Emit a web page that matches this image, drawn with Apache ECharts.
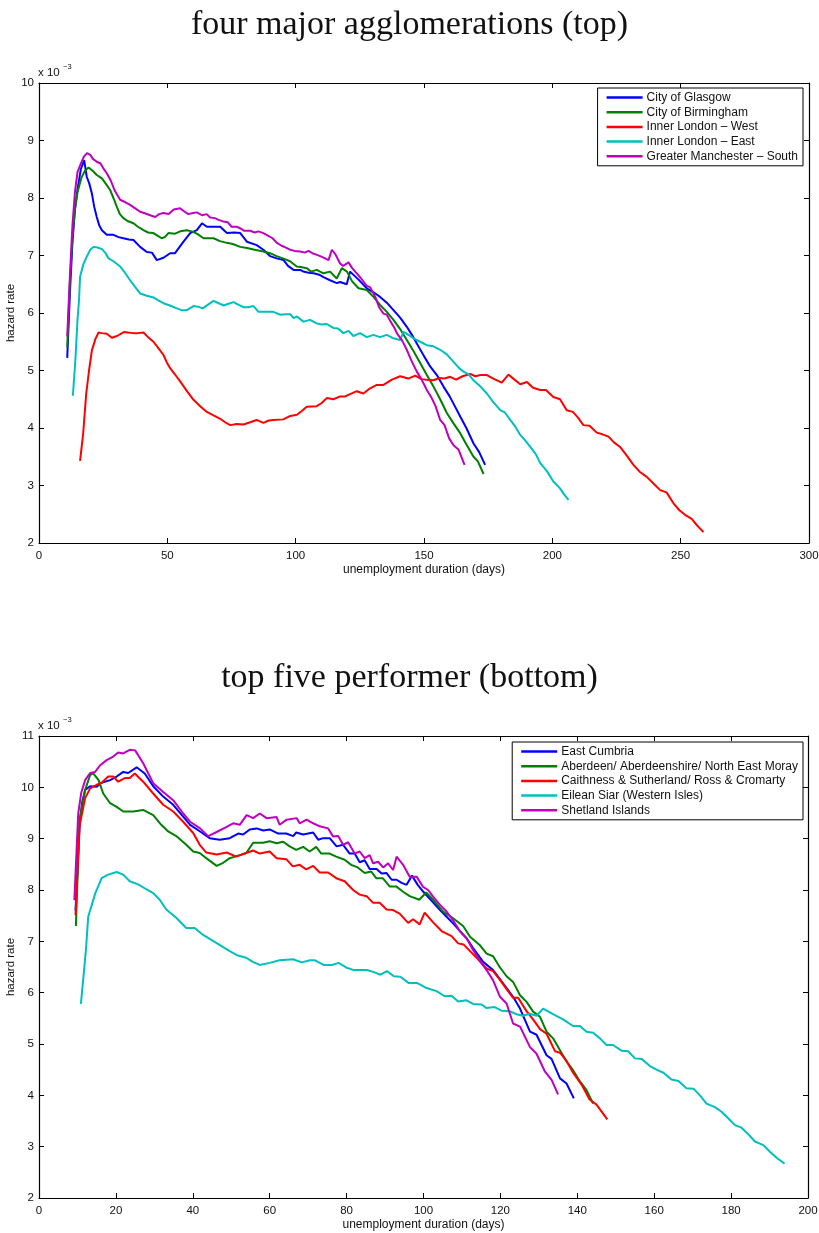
<!DOCTYPE html>
<html>
<head>
<meta charset="utf-8">
<script src="https://cdn.jsdelivr.net/npm/echarts@6/dist/echarts.min.js"></script>
<style>
html, body { margin: 0; padding: 0; background: #fff; }
#chart { width: 819px; height: 1233px; }
</style>
</head>
<body>
<div id="chart"></div>
<script>
// hazard rate values are in units of 1e-3, x is unemployment duration in days

// ---- top panel: four major agglomerations ----
var topNames = ['City of Glasgow', 'City of Birmingham', 'Inner London \u2013 West', 'Inner London \u2013 East', 'Greater Manchester \u2013 South'];

var glasgow = [[11,5.22],[12,6.3],[13,7.2],[14,7.8],[15,8.15],[16.3,8.5],[17.6,8.66],[18.6,8.37],[19.6,8.25],[20.6,8.08],[21.5,7.85],[22.5,7.67],[23.5,7.52],[24.5,7.44],[26.4,7.36],[29,7.36],[31,7.32],[32.9,7.3],[35,7.28],[36.8,7.27],[39.4,7.15],[42,7.06],[44,7.05],[45.9,6.92],[48.5,6.96],[51.1,7.04],[53,7.04],[56.3,7.24],[58.9,7.39],[61.5,7.44],[63.5,7.56],[65.4,7.5],[68,7.5],[70.6,7.5],[73.2,7.39],[76,7.4],[78.4,7.39],[81,7.24],[84.8,7.18],[87.4,7.1],[90,6.99],[92.6,6.95],[95.3,6.92],[97,6.82],[99.2,6.75],[101.8,6.75],[103,6.72],[105,6.7],[107,6.69],[109.5,6.66],[111,6.62],[113.4,6.57],[116,6.52],[117.3,6.54],[119.9,6.5],[121.2,6.72],[124.5,6.58],[127.7,6.43],[130.3,6.36],[132.9,6.28],[135.5,6.18],[138.1,6.05],[140.7,5.92],[143.3,5.76],[145.3,5.62],[147.2,5.47],[150,5.25],[152.4,5.07],[155,4.92],[157.6,4.72],[160,4.55],[162,4.38],[164.1,4.2],[166.5,4.0],[169.3,3.73],[171.5,3.58],[173.8,3.36]];

var birmingham = [[11,5.4],[12,6.5],[13,7.3],[14,7.8],[15,8.1],[16.5,8.35],[18,8.48],[19.3,8.53],[21,8.47],[22.5,8.4],[24.5,8.34],[26,8.25],[27.7,8.14],[29,8.0],[30.3,7.85],[31.5,7.72],[32.9,7.65],[34.5,7.6],[36.8,7.56],[38.5,7.5],[40.7,7.44],[42.5,7.4],[44.6,7.39],[46.3,7.34],[47.8,7.3],[49,7.32],[50.4,7.39],[53,7.38],[55,7.42],[57.6,7.44],[59.5,7.42],[61.5,7.38],[64.1,7.3],[66,7.3],[68,7.3],[70.5,7.25],[73.2,7.22],[75.5,7.2],[78.4,7.15],[81,7.13],[84,7.1],[87.4,7.07],[90,7.04],[92.6,6.99],[95,6.95],[97.8,6.9],[100.4,6.81],[102,6.8],[104.3,6.78],[106,6.72],[108.2,6.75],[109.5,6.72],[110.8,6.69],[113.4,6.72],[116,6.6],[118,6.78],[120,6.72],[122,6.55],[124.5,6.43],[127.7,6.4],[130.3,6.28],[132.9,6.14],[135.5,6.02],[138.1,5.88],[140.7,5.72],[143.3,5.53],[146,5.33],[148.5,5.13],[151,4.93],[153.7,4.72],[156.3,4.5],[158.9,4.26],[161.5,4.08],[164.1,3.91],[166.7,3.7],[169.3,3.5],[171,3.42],[173.2,3.2]];

var londonWest = [[16,3.43],[17.2,3.9],[18.4,4.6],[19.5,5.0],[20.6,5.35],[22,5.55],[23.2,5.66],[24.5,5.65],[26.4,5.64],[28.4,5.57],[30.4,5.6],[33.2,5.67],[34.5,5.66],[36.8,5.65],[38.5,5.65],[40.7,5.66],[42.5,5.58],[44.6,5.5],[46.5,5.39],[48.5,5.27],[49.8,5.14],[51.1,5.04],[53,4.93],[55,4.81],[57.5,4.65],[60.2,4.49],[62.8,4.38],[65.4,4.28],[68,4.22],[70.6,4.16],[72.5,4.1],[74.5,4.05],[77,4.07],[79.7,4.06],[82.3,4.1],[84.8,4.14],[87.4,4.09],[89.5,4.13],[91.3,4.14],[95.2,4.15],[97.9,4.21],[100.5,4.23],[102.5,4.3],[104.3,4.37],[108.2,4.38],[110,4.43],[112.1,4.52],[114.7,4.5],[117.3,4.55],[119.3,4.55],[121.2,4.59],[123.8,4.64],[126.4,4.6],[129,4.69],[131.6,4.75],[134.2,4.75],[137.5,4.84],[140.7,4.9],[143.9,4.86],[146.6,4.91],[149,4.85],[151,4.84],[153.7,4.83],[156,4.87],[158,4.86],[160.2,4.89],[162.5,4.84],[165,4.9],[168,4.94],[170,4.9],[172,4.92],[174.5,4.92],[177,4.86],[180.3,4.79],[182.9,4.93],[185,4.85],[187.5,4.76],[190.1,4.8],[192.5,4.7],[195.3,4.66],[197.5,4.66],[200.4,4.54],[203,4.5],[205.6,4.31],[208,4.28],[210,4.18],[212.1,4.05],[214.5,4.04],[217.3,3.92],[219.5,3.89],[221.9,3.85],[224,3.75],[226.4,3.67],[229,3.52],[231.6,3.36],[234,3.24],[236.8,3.15],[239.5,3.03],[242,2.92],[244.5,2.88],[247.2,2.69],[249.5,2.57],[251.7,2.49],[254.3,2.42],[256.5,2.3],[258.9,2.19]];

var londonEast = [[13.2,4.56],[14.2,5.2],[15,5.88],[15.6,6.23],[16,6.63],[17.3,6.85],[18.6,6.98],[20,7.1],[21.2,7.15],[22.8,7.14],[24.5,7.11],[25.8,7.05],[27.1,6.95],[29,6.9],[31.6,6.81],[33.5,6.7],[35.5,6.57],[37.5,6.45],[39.4,6.34],[42,6.3],[44.6,6.27],[46.5,6.22],[48.5,6.17],[51,6.13],[53.7,6.08],[55.5,6.05],[57.6,6.05],[60.2,6.12],[62,6.11],[63.8,6.08],[66,6.15],[68,6.21],[70,6.17],[72,6.13],[73.8,6.16],[75.8,6.19],[77.8,6.14],[79.8,6.1],[81.5,6.1],[83.6,6.12],[85.5,6.02],[88,6.02],[91.3,6.02],[94,5.97],[96,5.98],[97.9,5.98],[99.2,5.91],[100.5,5.94],[103,5.85],[105.6,5.88],[108.2,5.82],[110,5.8],[112,5.81],[114.7,5.74],[116.5,5.73],[118.6,5.65],[120.6,5.69],[122.5,5.6],[125.1,5.65],[127.7,5.58],[130.3,5.62],[132.9,5.58],[135.5,5.62],[138.1,5.56],[140.7,5.53],[142,5.67],[144,5.62],[145.9,5.56],[148.5,5.5],[151.1,5.44],[153.7,5.42],[156.3,5.36],[158.9,5.28],[161.5,5.15],[163.5,5.05],[165.4,4.98],[167.5,4.93],[169.3,4.83],[172,4.72],[174.5,4.6],[177,4.45],[179.7,4.31],[181.5,4.27],[183.6,4.14],[185.5,4.03],[187.5,3.88],[189.5,3.78],[191.4,3.67],[193.5,3.55],[195.3,3.39],[197.9,3.25],[200.4,3.07],[203,2.95],[204.5,2.85],[206.3,2.75]];

var manchester = [[11,5.59],[12,6.6],[13,7.5],[14,8.1],[15,8.45],[16.5,8.62],[17.5,8.72],[18.7,8.78],[20,8.75],[21,8.68],[22.5,8.63],[24,8.6],[25,8.52],[26.4,8.43],[28,8.3],[29.5,8.13],[31.6,7.97],[33.5,7.93],[35.5,7.88],[37.5,7.82],[39.4,7.76],[41.5,7.73],[43.3,7.7],[45.3,7.67],[46.8,7.72],[48.5,7.74],[50.5,7.72],[52.5,7.8],[55,7.82],[56.5,7.77],[58.2,7.72],[60,7.74],[61.5,7.75],[63.5,7.7],[65.3,7.72],[66.7,7.66],[68.5,7.65],[70,7.62],[71.9,7.59],[73.5,7.58],[75,7.5],[77.1,7.5],[78.5,7.47],[80,7.43],[82.3,7.43],[84,7.4],[85.5,7.42],[87.4,7.39],[89,7.35],[91,7.3],[92.7,7.22],[94.5,7.17],[96,7.14],[97.9,7.1],[99.5,7.08],[101.8,7.07],[103.5,7.05],[105,7.08],[106.5,7.04],[108.3,7.01],[110,6.98],[111.5,6.95],[112.8,6.92],[114.1,7.1],[115.5,7.02],[117.3,6.86],[118.5,6.82],[120.6,6.88],[122,6.78],[123.8,6.69],[125.5,6.6],[127.7,6.47],[129,6.45],[131,6.28],[132.5,6.1],[134.2,5.99],[135.5,5.97],[137,5.85],[138.5,5.74],[139.4,5.65],[141.5,5.52],[143.3,5.36],[145,5.18],[147.2,4.98],[149,4.85],[151.1,4.66],[153,4.52],[154.5,4.38],[156.3,4.14],[158,4.05],[159.8,3.82],[161.5,3.7],[163.5,3.62],[165.8,3.36]];

// ---- bottom panel: top five performers ----
var bottomNames = ['East Cumbria', 'Aberdeen/ Aberdeenshire/ North East Moray', 'Caithness & Sutherland/ Ross & Cromarty', 'Eilean Siar (Western Isles)', 'Shetland Islands'];

var cumbria = [[9.5,7.6],[10.5,9.2],[11.2,9.7],[12,9.95],[13.3,10.02],[15,10.01],[16.3,10.09],[18.5,10.14],[20.2,10.21],[21.9,10.3],[23.2,10.28],[25.4,10.39],[27.5,10.27],[29.7,10.02],[32.3,9.82],[34.9,9.66],[37.5,9.43],[39.3,9.27],[41.9,9.14],[44.4,9.01],[47,8.98],[49.6,9.01],[51.8,9.1],[53.1,9.08],[54.8,9.18],[56.6,9.2],[58.3,9.16],[60,9.18],[62.2,9.1],[64.3,9.1],[66.1,9.05],[66.9,9.12],[68.7,9.08],[71.3,9.12],[72.6,8.98],[73.9,9.01],[75.6,9.01],[77.4,8.85],[79.1,8.88],[80.8,8.71],[82.1,8.71],[83.4,8.54],[84.7,8.58],[86,8.41],[87.8,8.41],[89.1,8.32],[90.4,8.33],[91.7,8.2],[93,8.2],[94.3,8.14],[95.6,8.1],[97,8.28],[98.5,8.1],[99.9,7.97],[102,7.8],[104.3,7.61],[106,7.48],[107.7,7.35],[109.5,7.2],[111.2,7.06],[112.9,6.87],[115.5,6.6],[118.1,6.44],[120.7,6.18],[123.3,5.92],[125.1,5.69],[127.7,5.24],[129.4,5.18],[132,4.78],[133.3,4.71],[135.5,4.33],[137.2,4.23],[139.1,3.94]];

var aberdeen = [[9.6,7.3],[10.5,9.36],[12,9.95],[13.3,10.24],[14.1,10.27],[15.5,10.14],[16.7,9.88],[18.5,9.69],[20.2,9.62],[21.9,9.53],[24.5,9.53],[27.1,9.56],[29.7,9.46],[31.8,9.27],[33.6,9.14],[35.7,9.05],[38.3,8.88],[40.1,8.75],[41.8,8.72],[43.5,8.62],[46.2,8.47],[47.9,8.53],[49.6,8.62],[52.2,8.68],[53.9,8.72],[55.7,8.92],[58.3,8.92],[60,8.95],[61.8,8.91],[63.5,8.94],[65.2,8.85],[66.9,8.78],[68.7,8.84],[70.4,8.75],[72.1,8.84],[73.4,8.71],[75.6,8.71],[77.3,8.65],[79.5,8.59],[81.2,8.49],[82.9,8.44],[84.7,8.33],[86.4,8.36],[87.7,8.23],[89.4,8.23],[91.2,8.07],[92.9,8.07],[94.6,7.97],[96.4,7.88],[98.9,7.81],[100.7,7.95],[102.5,7.81],[105.1,7.58],[107.7,7.45],[110.3,7.3],[112.1,7.09],[114.6,6.93],[116.4,6.76],[118.1,6.71],[119.8,6.5],[121.6,6.32],[123.3,6.21],[125.1,5.95],[126.8,5.82],[128.5,5.63],[130.3,5.53],[132,5.24],[133.7,5.11],[135.5,4.88],[137.2,4.66],[138.9,4.49],[140.7,4.27],[142.4,4.1],[144.1,3.84]];

var caithness = [[9.5,7.51],[10.6,9.27],[12,9.79],[13.3,9.98],[15,10.05],[16.3,10.09],[18,10.21],[19.3,10.21],[20.6,10.11],[22.3,10.18],[23.6,10.18],[24.9,10.27],[27.1,10.11],[29.7,9.88],[32.3,9.66],[34.9,9.53],[37.5,9.33],[40.1,9.11],[41.8,8.88],[43.5,8.73],[46.2,8.69],[48.8,8.73],[51.3,8.65],[53.9,8.72],[55.7,8.77],[57.4,8.71],[60,8.75],[61.8,8.62],[64.3,8.6],[66,8.46],[67.8,8.49],[69.5,8.4],[71.3,8.47],[73,8.34],[75.2,8.34],[77.3,8.23],[79.5,8.17],[81.7,8.0],[83.4,7.91],[85.2,7.88],[86.9,7.75],[88.6,7.75],[90.4,7.62],[92.1,7.61],[93.8,7.54],[96,7.36],[97.3,7.43],[99,7.33],[100.3,7.56],[102.5,7.37],[104.7,7.2],[107.3,7.1],[109,6.96],[110.4,6.94],[112.1,6.81],[113.8,6.68],[116.4,6.47],[118.1,6.42],[119.8,6.26],[121.6,6.07],[123.3,5.9],[124.6,5.9],[126.8,5.64],[128.5,5.48],[130.3,5.29],[132,5.2],[134.2,4.86],[135.5,4.83],[137.2,4.67],[138.9,4.44],[141.1,4.21],[143.2,3.92],[145,3.82],[147.8,3.53]];

var eileanSiar = [[10.9,5.78],[12.2,6.83],[12.8,7.48],[14.6,7.93],[16.3,8.23],[18,8.3],[20.2,8.35],[21.9,8.3],[23.6,8.17],[25.8,8.11],[28,8.01],[29.7,7.94],[31.4,7.81],[33.1,7.62],[35.7,7.46],[38.3,7.26],[40.5,7.26],[42.6,7.13],[46.1,6.97],[49.6,6.81],[51.5,6.73],[53.9,6.68],[55.6,6.6],[57.4,6.54],[60,6.58],[62.6,6.63],[66.1,6.65],[68.3,6.59],[70.5,6.63],[71.8,6.63],[74,6.54],[76.2,6.54],[77.9,6.58],[80.2,6.48],[81.9,6.44],[85.3,6.44],[87.1,6.4],[88.8,6.35],[90.5,6.42],[92.3,6.32],[94,6.31],[96.1,6.19],[98.3,6.19],[100.8,6.09],[103.4,6.03],[105.5,5.93],[107.3,5.94],[109,5.83],[111.2,5.85],[112.9,5.78],[115.1,5.77],[116.4,5.7],[118.5,5.72],[120.3,5.65],[122.4,5.64],[124.2,5.58],[125.9,5.55],[127.6,5.59],[129.4,5.55],[131.1,5.69],[133.7,5.58],[136.3,5.48],[138.9,5.35],[140.7,5.35],[142.4,5.24],[144.1,5.22],[145.9,5.11],[147.6,4.98],[149.3,4.98],[151.5,4.87],[153.2,4.86],[155,4.72],[156.7,4.71],[158.9,4.57],[160.6,4.5],[162.4,4.44],[164.5,4.31],[166.3,4.28],[168.4,4.14],[170.2,4.13],[171.9,4.0],[173.6,3.84],[175.8,3.77],[177.5,3.68],[179.3,3.55],[181,3.42],[182.7,3.37],[184.5,3.24],[186.2,3.1],[188.4,3.03],[190.1,2.9],[191.9,2.78],[193.9,2.67]];

var shetland = [[9.2,7.8],[10.2,9.49],[11,9.9],[12,10.14],[13.3,10.28],[14.6,10.3],[15.9,10.43],[17.6,10.53],[19.3,10.6],[20.6,10.68],[21.9,10.66],[23.6,10.73],[25,10.72],[27.1,10.47],[29.7,10.08],[32.3,9.91],[34.9,9.75],[37.5,9.49],[39.3,9.33],[41.9,9.2],[44,9.05],[46.2,9.13],[48.8,9.23],[50.5,9.3],[52.2,9.27],[54,9.46],[55.7,9.4],[57.4,9.49],[59.2,9.4],[61.8,9.42],[62.6,9.27],[64.4,9.37],[67,9.4],[67.8,9.3],[69.6,9.37],[71.3,9.3],[73,9.24],[75.2,9.2],[76.5,9.04],[77.8,9.05],[79.1,8.88],[80.4,8.93],[82.1,8.71],[83.4,8.75],[84.7,8.62],[86,8.68],[86.9,8.52],[88.2,8.55],[89.5,8.44],[90.8,8.52],[92.1,8.39],[93,8.65],[94.7,8.49],[96.4,8.26],[98.2,8.26],[99.9,8.06],[101.2,8.0],[102.5,7.87],[104.3,7.71],[106,7.58],[107.7,7.41],[109.5,7.19],[111.2,7.06],[112.9,6.83],[114.6,6.63],[116.4,6.44],[118.1,6.24],[119.9,5.92],[121.6,5.79],[123.3,5.4],[125.1,5.34],[127.7,4.94],[129.4,4.81],[131.6,4.46],[133.3,4.3],[135,4.02]];

var colors = ['#0000ff', '#008000', '#ff0000', '#00bfbf', '#bf00bf'];

var topData = [glasgow, birmingham, londonWest, londonEast, manchester];
var bottomData = [cumbria, aberdeen, caithness, eileanSiar, shetland];

var labelFont = 'Liberation Sans';
var axisLine = { onZero: false, lineStyle: { color: '#000', width: 1.2 } };
var axisTick = { inside: true, length: 5, lineStyle: { color: '#000', width: 1 } };

function xAxisPair(grid, max, interval) {
    return [{
        gridIndex: grid, type: 'value', position: 'bottom',
        min: 0, max: max, interval: interval,
        name: 'unemployment duration (days)', nameLocation: 'middle', nameGap: 21, nameMoveOverlap: false,
        nameTextStyle: { color: '#111', fontSize: 12, fontFamily: labelFont },
        axisLine: axisLine, axisTick: axisTick, splitLine: { show: false },
        axisLabel: { color: '#111', fontSize: 11.5, fontFamily: labelFont, margin: 7 }
    }, {
        gridIndex: grid, type: 'value', position: 'top',
        min: 0, max: max, interval: interval,
        axisLine: axisLine, axisTick: axisTick, splitLine: { show: false },
        axisLabel: { show: false }
    }];
}

function yAxisPair(grid, max) {
    return [{
        gridIndex: grid, type: 'value', position: 'left',
        min: 2, max: max, interval: 1,
        name: 'hazard rate', nameLocation: 'middle', nameGap: 22, nameMoveOverlap: false,
        nameTextStyle: { color: '#111', fontSize: 11.5, fontFamily: labelFont },
        axisLine: axisLine, axisTick: axisTick, splitLine: { show: false },
        axisLabel: { color: '#111', fontSize: 11.5, fontFamily: labelFont, margin: 5 }
    }, {
        gridIndex: grid, type: 'value', position: 'right',
        min: 2, max: max, interval: 1,
        axisLine: axisLine, axisTick: axisTick, splitLine: { show: false },
        axisLabel: { show: false }
    }];
}

function buildSeries(names, data, xi, yi) {
    return names.map(function (n, i) {
        return {
            name: n, type: 'line', xAxisIndex: xi, yAxisIndex: yi,
            data: data[i], showSymbol: false, symbol: 'none',
            lineStyle: { color: colors[i], width: 2 },
            itemStyle: { color: colors[i] },
            animation: false
        };
    });
}

function legendBox(names, top) {
    return {
        data: names, orient: 'vertical', right: 16, top: top,
        icon: 'rect', itemWidth: 36, itemHeight: 2.5, itemGap: 1.7,
        padding: [3, 5, 3, 9], selectedMode: false,
        borderColor: '#000', borderWidth: 1, backgroundColor: '#fff',
        textStyle: { color: '#111', fontSize: 12, fontFamily: labelFont, lineHeight: 13, padding: [0, 0, 0, -1] }
    };
}

function expLabel(top) {
    return [
        { type: 'text', left: 38, top: top, style: { text: 'x 10', fontSize: 11.5, fontFamily: labelFont, fill: '#111' } },
        { type: 'text', left: 63, top: top - 4, style: { text: '\u22123', fontSize: 7.5, fontFamily: labelFont, fill: '#111' } }
    ];
}

var chart = echarts.init(document.getElementById('chart'));

var option = {
    backgroundColor: '#fff',
    animation: false,
    title: [
        { text: 'four major agglomerations (top)', left: 'center', top: 3,
          textStyle: { fontFamily: 'Liberation Serif', fontWeight: 'normal', fontSize: 34, color: '#111' } },
        { text: 'top five performer (bottom)', left: 'center', top: 656,
          textStyle: { fontFamily: 'Liberation Serif', fontWeight: 'normal', fontSize: 34, color: '#111' } }
    ],
    grid: [
        { left: 39, top: 83, width: 770, height: 460, outerBoundsMode: 'none' },
        { left: 39, top: 736, width: 769, height: 462, outerBoundsMode: 'none' }
    ],
    xAxis: xAxisPair(0, 300, 50).concat(xAxisPair(1, 200, 20)),
    yAxis: yAxisPair(0, 10).concat(yAxisPair(1, 11)),
    legend: [legendBox(topNames, 88), legendBox(bottomNames, 742)],
    graphic: expLabel(67).concat(expLabel(720)),
    series: buildSeries(topNames, topData, 0, 0).concat(buildSeries(bottomNames, bottomData, 2, 2))
};

chart.setOption(option);
</script>
</body>
</html>
